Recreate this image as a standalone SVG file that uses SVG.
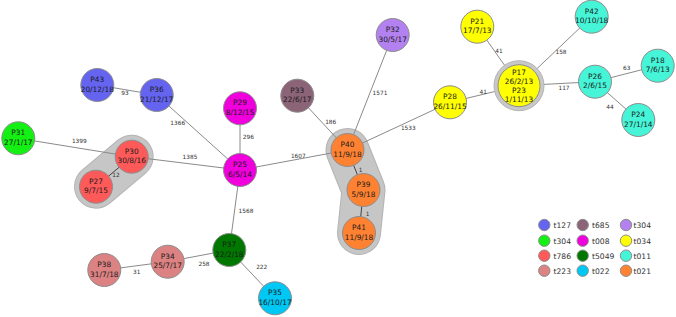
<svg xmlns="http://www.w3.org/2000/svg" width="676" height="317" viewBox="0 0 676 317">
<style>
.e{stroke:#8a8a8a;stroke-width:1;fill:none}
.ed{stroke:#404040;stroke-width:1;fill:none}
.n{stroke:#8c8c8c;stroke-width:1}
.t{font-family:"DejaVu Sans",Verdana,sans-serif;font-size:7.4px;fill:#1a1a1a;text-anchor:middle}
.l{font-family:"DejaVu Sans",Verdana,sans-serif;font-size:5.8px;fill:#333;text-anchor:middle}
.g{font-family:"DejaVu Sans",Verdana,sans-serif;font-size:7.6px;fill:#333}
.clu{fill:none;stroke-linecap:round;stroke-linejoin:round}
.c127{fill:#6464f0}.c685{fill:#8c6478}.c304p{fill:#b482f0}.c304g{fill:#14f014}.c008{fill:#f000dc}.c034{fill:#ffff00}
.c786{fill:#ff5a5a}.c5049{fill:#007800}.c011{fill:#46f5d7}.c223{fill:#dc8282}.c022{fill:#00c8f5}.c021{fill:#ff8232}
</style>
<rect width="676" height="317" fill="#ffffff"/>
<g id="clusters">
<path class="clu" d="M131.7,156.7 L96,186.7" stroke="#b4b4b4" stroke-width="44"/>
<path class="clu" d="M131.7,156.7 L96,186.7" stroke="#c6c6c6" stroke-width="42"/>
<path class="clu" d="M347.5,150 L363.5,190 L359,233" stroke="#b4b4b4" stroke-width="44"/>
<path class="clu" d="M347.5,150 L363.5,190 L359,233" stroke="#c6c6c6" stroke-width="42"/>
</g>
<g id="connectors">
<line class="e" x1="97.3" y1="85" x2="156.7" y2="95"/>
<line class="e" x1="156.7" y1="95" x2="240" y2="170"/>
<line class="e" x1="240" y1="108.3" x2="240" y2="170"/>
<line class="e" x1="131.7" y1="156.7" x2="240" y2="170"/>
<line class="e" x1="18.3" y1="138.3" x2="131.7" y2="156.7"/>
<line class="ed" x1="131.7" y1="156.7" x2="96" y2="186.7"/>
<line class="e" x1="240" y1="170" x2="347.5" y2="150"/>
<line class="e" x1="240" y1="170" x2="229.3" y2="250"/>
<line class="e" x1="229.3" y1="250" x2="167.7" y2="261.7"/>
<line class="e" x1="167.7" y1="261.7" x2="104.3" y2="270"/>
<line class="e" x1="229.3" y1="250" x2="275" y2="298.3"/>
<line class="e" x1="297.3" y1="95.7" x2="347.5" y2="150"/>
<line class="e" x1="392.7" y1="35" x2="347.5" y2="150"/>
<line class="e" x1="450" y1="102.3" x2="347.5" y2="150"/>
<line class="e" x1="450" y1="102.3" x2="519" y2="85.7"/>
<line class="e" x1="477.3" y1="26.7" x2="519" y2="85.7"/>
<line class="e" x1="591.7" y1="16.7" x2="519" y2="85.7"/>
<line class="e" x1="519" y1="85.7" x2="595" y2="81.7"/>
<line class="e" x1="595" y1="81.7" x2="657.7" y2="65.7"/>
<line class="e" x1="595" y1="81.7" x2="638.3" y2="120"/>
<line class="ed" x1="347.5" y1="150" x2="363.5" y2="190"/>
<line class="ed" x1="363.5" y1="190" x2="359" y2="233"/>
<text class="l" x="125" y="94.5">93</text>
<text class="l" x="177.7" y="125">1366</text>
<text class="l" x="248.3" y="139">296</text>
<text class="l" x="190" y="158.5">1385</text>
<text class="l" x="79.3" y="143">1399</text>
<text class="l" x="116" y="177">12</text>
<text class="l" x="298.3" y="157.5">1607</text>
<text class="l" x="246" y="212.5">1568</text>
<text class="l" x="204" y="266">258</text>
<text class="l" x="136.7" y="273.5">31</text>
<text class="l" x="261.7" y="269">222</text>
<text class="l" x="330.7" y="124">186</text>
<text class="l" x="380" y="95">1571</text>
<text class="l" x="408.3" y="130">1533</text>
<text class="l" x="483.3" y="93.5">41</text>
<text class="l" x="499" y="52.5">41</text>
<text class="l" x="561" y="53.5">158</text>
<text class="l" x="564" y="89.5">117</text>
<text class="l" x="626.7" y="70">63</text>
<text class="l" x="610" y="108.5">44</text>
<text class="l" x="360.5" y="172">1</text>
<text class="l" x="367.5" y="216">1</text>
</g>
<g id="P43"><circle class="n c127" cx="97.3" cy="85" r="16.5"/><text class="t" x="97.3" y="82">P43</text><text class="t" x="97.3" y="91.5">20/12/18</text></g>
<g id="P36"><circle class="n c127" cx="156.7" cy="95" r="16.5"/><text class="t" x="156.7" y="92">P36</text><text class="t" x="156.7" y="101.5">21/12/17</text></g>
<g id="P29"><circle class="n c008" cx="240" cy="108.3" r="16.5"/><text class="t" x="240" y="105.3">P29</text><text class="t" x="240" y="114.8">8/12/15</text></g>
<g id="P25"><circle class="n c008" cx="240" cy="170" r="16.5"/><text class="t" x="240" y="167">P25</text><text class="t" x="240" y="176.5">6/5/14</text></g>
<g id="P31"><circle class="n c304g" cx="18.3" cy="138.3" r="16.5"/><text class="t" x="18.3" y="135.3">P31</text><text class="t" x="18.3" y="144.8">27/1/17</text></g>
<g id="P30"><circle class="n c786" cx="131.7" cy="156.7" r="16.5"/><text class="t" x="131.7" y="153.7">P30</text><text class="t" x="131.7" y="163.2">30/8/16</text></g>
<g id="P27"><circle class="n c786" cx="96" cy="186.7" r="16.5"/><text class="t" x="96" y="183.7">P27</text><text class="t" x="96" y="193.2">9/7/15</text></g>
<g id="P37"><circle class="n c5049" cx="229.3" cy="250" r="16.5"/><text class="t" x="229.3" y="247">P37</text><text class="t" x="229.3" y="256.5">22/2/18</text></g>
<g id="P34"><circle class="n c223" cx="167.7" cy="261.7" r="16.5"/><text class="t" x="167.7" y="258.7">P34</text><text class="t" x="167.7" y="268.2">25/7/17</text></g>
<g id="P38"><circle class="n c223" cx="104.3" cy="270" r="16.5"/><text class="t" x="104.3" y="267">P38</text><text class="t" x="104.3" y="276.5">31/7/18</text></g>
<g id="P35"><circle class="n c022" cx="275" cy="298.3" r="16.5"/><text class="t" x="275" y="295.3">P35</text><text class="t" x="275" y="304.8">16/10/17</text></g>
<g id="P33"><circle class="n c685" cx="297.3" cy="95.7" r="16.5"/><text class="t" x="297.3" y="92.7">P33</text><text class="t" x="297.3" y="102.2">22/6/17</text></g>
<g id="P32"><circle class="n c304p" cx="392.7" cy="35" r="16.5"/><text class="t" x="392.7" y="32">P32</text><text class="t" x="392.7" y="41.5">30/5/17</text></g>
<g id="P40"><circle class="n c021" cx="347.5" cy="150" r="16.5"/><text class="t" x="347.5" y="147">P40</text><text class="t" x="347.5" y="156.5">11/9/18</text></g>
<g id="P39"><circle class="n c021" cx="363.5" cy="190" r="16.5"/><text class="t" x="363.5" y="187">P39</text><text class="t" x="363.5" y="196.5">5/9/18</text></g>
<g id="P41"><circle class="n c021" cx="359" cy="233" r="16.5"/><text class="t" x="359" y="230">P41</text><text class="t" x="359" y="239.5">11/9/18</text></g>
<g id="P28"><circle class="n c034" cx="450" cy="102.3" r="16.5"/><text class="t" x="450" y="99.3">P28</text><text class="t" x="450" y="108.8">26/11/15</text></g>
<g id="P21"><circle class="n c034" cx="477.3" cy="26.7" r="16.5"/><text class="t" x="477.3" y="23.7">P21</text><text class="t" x="477.3" y="33.2">17/7/13</text></g>
<g id="P17"><circle cx="519" cy="85.7" r="25" fill="#c8c8c8" stroke="#b4b4b4" stroke-width="1"/><circle class="n c034" cx="519" cy="85.7" r="21"/><text class="t" x="519" y="75">P17</text><text class="t" x="519" y="84">26/2/13</text><text class="t" x="519" y="93">P23</text><text class="t" x="519" y="102">1/11/13</text></g>
<g id="P42"><circle class="n c011" cx="591.7" cy="16.7" r="16.5"/><text class="t" x="591.7" y="13.7">P42</text><text class="t" x="591.7" y="23.2">10/10/18</text></g>
<g id="P26"><circle class="n c011" cx="595" cy="81.7" r="16.5"/><text class="t" x="595" y="78.7">P26</text><text class="t" x="595" y="88.2">2/6/15</text></g>
<g id="P18"><circle class="n c011" cx="657.7" cy="65.7" r="16.5"/><text class="t" x="657.7" y="62.7">P18</text><text class="t" x="657.7" y="72.2">7/6/13</text></g>
<g id="P24"><circle class="n c011" cx="638.3" cy="120" r="16.5"/><text class="t" x="638.3" y="117">P24</text><text class="t" x="638.3" y="126.5">27/1/14</text></g>
<g id="legend">
<circle class="n c127" cx="544.3" cy="225" r="5.7"/><text class="g" x="553.5" y="227.8">t127</text>
<circle class="n c304g" cx="544.3" cy="240.7" r="5.7"/><text class="g" x="553.5" y="243.5">t304</text>
<circle class="n c786" cx="544.3" cy="255.7" r="5.7"/><text class="g" x="553.5" y="258.5">t786</text>
<circle class="n c223" cx="544.3" cy="270.7" r="5.7"/><text class="g" x="553.5" y="273.5">t223</text>
<circle class="n c685" cx="582.7" cy="225" r="5.7"/><text class="g" x="592" y="227.8">t685</text>
<circle class="n c008" cx="582.7" cy="240.7" r="5.7"/><text class="g" x="592" y="243.5">t008</text>
<circle class="n c5049" cx="582.7" cy="255.7" r="5.7"/><text class="g" x="592" y="258.5">t5049</text>
<circle class="n c022" cx="582.7" cy="270.7" r="5.7"/><text class="g" x="592" y="273.5">t022</text>
<circle class="n c304p" cx="626" cy="225" r="5.7"/><text class="g" x="633.5" y="227.8">t304</text>
<circle class="n c034" cx="626" cy="240.7" r="5.7"/><text class="g" x="633.5" y="243.5">t034</text>
<circle class="n c011" cx="626" cy="255.7" r="5.7"/><text class="g" x="633.5" y="258.5">t011</text>
<circle class="n c021" cx="626" cy="270.7" r="5.7"/><text class="g" x="633.5" y="273.5">t021</text>
</g>
</svg>
